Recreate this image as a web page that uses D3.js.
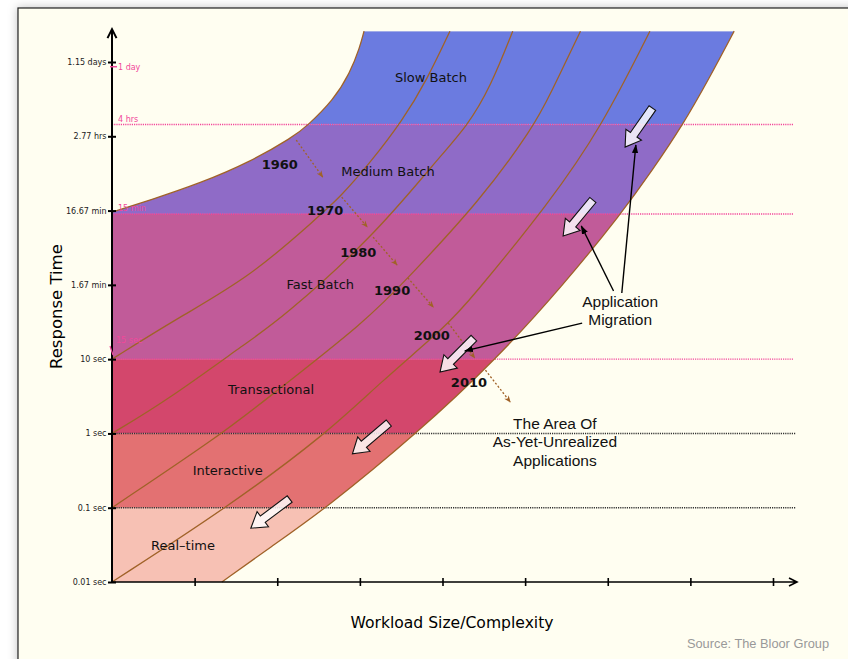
<!DOCTYPE html>
<html>
<head>
<meta charset="utf-8">
<script src="https://cdn.jsdelivr.net/npm/d3@7"></script>
<style>
  body { margin: 0; background: #fff; }
  svg { display: block; }
</style>
</head>
<body>
<svg></svg>
<script>
// Svg size
const width = 848
const height = 659

// Response time bands, bounds in seconds
const bandNames = ["Real–time", "Interactive", "Transactional", "Fast Batch", "Medium Batch", "Slow Batch"]
const bandBounds = [0.01, 0.1, 1, 10, 900, 14400, 260000]

// Axis ticks
const yTicks = [0.01, 0.1, 1, 10, 100, 1000, 10000, 100000]
const yTickLabels = ["0.01 sec", "0.1 sec", "1 sec", "10 sec", "1.67 min", "16.67 min", "2.77 hrs", "1.15 days"]
const xTicks = [1, 2, 3, 4, 5, 6, 7, 8]

// Pink reference marks (seconds)
const refNames = ["15 sec", "15 min", "4 hrs", "1 day"]
const refValues = [15, 900, 14400, 86400]

// Technology frontier per decade: [workload, seconds]
const years = ["1960", "1970", "1980", "1990", "2000", "2010"]
const curve1960 = [[0, 950], [0.46, 1380], [1.07, 2340], [1.67, 4500], [2.19, 9760], [2.36, 13700], [2.68, 30700], [2.88, 71000], [3.0, 158000], [3.05, 260000]]
const curve1970 = [[0, 10], [0.8, 36], [1.67, 127], [2.48, 793], [2.76, 1510], [3.12, 4340], [3.52, 16500], [3.81, 57000], [4.09, 260000]]
const curve1980 = [[0, 1], [0.67, 2.8], [1.67, 18], [2.03, 33.6], [3.16, 440], [3.93, 4790], [4.3, 13700], [4.58, 46000], [4.85, 260000]]
const curve1990 = [[0, 0.1], [1.34, 1], [1.85, 2.8], [3.09, 33.6], [3.58, 123], [4.46, 1380], [5.1, 13300], [5.3, 35900], [5.67, 260000]]
const curve2000 = [[0, 0.01], [1.39, 0.1], [2.6, 1], [3.24, 4.8], [4.06, 28.8], [4.33, 62], [5.3, 1300], [5.93, 13700], [6.51, 260000]]
const curve2010 = [[1.33, 0.01], [1.91, 0.029], [2.6, 0.1], [3.69, 1], [4.64, 9.7], [5.45, 96], [6.17, 925], [6.54, 3500], [6.9, 13700], [7.23, 60700], [7.53, 260000]]

// Year drift arrows (dotted)
const driftFrom = [[2.23, 8900], [2.78, 1520], [3.16, 440], [3.58, 124], [4.07, 30.6], [4.52, 7.1]]
const driftTo = [[2.55, 2830], [3.09, 600], [3.45, 185], [3.89, 50], [4.39, 10.4], [4.82, 2.65]]

// Application migration block arrows
const migrateFrom = [[6.54, 24000], [5.82, 1390], [4.38, 19.2], [3.35, 1.38], [2.15, 0.131]]
const migrateTo = [[6.21, 7160], [5.46, 454], [3.97, 6.7], [2.91, 0.53], [1.68, 0.053]]

// Callout pointers from the "Application Migration" label
const calloutFrom = [[6.17, 77.6], [6.07, 82.6], [5.69, 30.6]]
const calloutTo = [[6.34, 7620], [5.68, 620], [4.27, 12.9]]

// ---- layout / style ----
const bandColors = ["#f7c1b4", "#e37172", "#d3476c", "#c15b99", "#8f6bc7", "#6b7be0"]
const bandLabelAt = [[0.86, 0.027], [1.4, 0.275], [1.925, 3.4], [2.52, 88], [3.34, 2920], [3.86, 53700]]
const yearLabelAt = [[2.03, 3620], [2.58, 871], [2.98, 237], [3.39, 73], [3.87, 18], [4.32, 4.2]]
const brown = "#a06228"
const pink = "#f2479b"

const svg = d3.select("svg")
    .attr("width", width)
    .attr("height", height)

const xScale = d3.scaleLinear().domain([0, 8]).range([112, 773])
const yScale = d3.scaleLog().domain([0.01, 100000]).range([582, 62])
const topTime = bandBounds[bandBounds.length - 1]

const defs = svg.append("defs")

// Panel with soft shadow
const shadow = defs.append("filter").attr("id", "shadow")
    .attr("x", "-5%").attr("y", "-5%").attr("width", "110%").attr("height", "110%")
shadow.append("feDropShadow")
    .attr("dx", 0).attr("dy", 0).attr("stdDeviation", 5)
    .attr("flood-color", "#000").attr("flood-opacity", 0.25)

svg.append("rect")
    .attr("x", 18).attr("y", 8)
    .attr("width", width).attr("height", height)
    .attr("fill", "#fffef1")
    .attr("stroke", "#222").attr("stroke-width", 1.2)
    .attr("filter", "url(#shadow)")

const lineGen = d3.line()
    .x(d => xScale(d[0]))
    .y(d => yScale(d[1]))
    .curve(d3.curveBasis)

// Region between the 1960 and 2010 frontiers
const regionPath = `M${xScale(0)},${yScale(0.01)}L${xScale(0)},${yScale(curve1960[0][1])}`
    + lineGen(curve1960).replace(/^M/, "L")
    + lineGen(curve2010.slice().reverse()).replace(/^M/, "L")
    + "Z"

defs.append("clipPath").attr("id", "region")
    .append("path").attr("d", regionPath)

svg.append("g").attr("clip-path", "url(#region)")
    .selectAll("rect").data(bandNames).join("rect")
    .attr("x", xScale(0))
    .attr("width", xScale(8) - xScale(0))
    .attr("y", (d, i) => yScale(bandBounds[i + 1]))
    .attr("height", (d, i) => yScale(bandBounds[i]) - yScale(bandBounds[i + 1]))
    .attr("fill", (d, i) => bandColors[i])

// Dotted band boundaries
const xEnd = xScale(8) + 23
svg.append("g").selectAll("line").data(bandBounds.slice(1, 6)).join("line")
    .attr("x1", xScale(0)).attr("x2", (d, i) => i < 2 ? xEnd : xEnd - 3)
    .attr("y1", d => yScale(d)).attr("y2", d => yScale(d))
    .attr("stroke", (d, i) => i < 2 ? "#333" : pink)
    .attr("stroke-width", 1.4)
    .attr("stroke-dasharray", "1.2,1")

// Frontier curves
const curves = [curve1960, curve1970, curve1980, curve1990, curve2000, curve2010]
svg.append("g").selectAll("path").data(curves).join("path")
    .attr("d", d => lineGen(d))
    .attr("fill", "none")
    .attr("stroke", brown)
    .attr("stroke-width", 1.3)

// Markers
defs.append("marker").attr("id", "brownHead")
    .attr("viewBox", "0 0 10 10").attr("refX", 9).attr("refY", 5)
    .attr("markerWidth", 7).attr("markerHeight", 7).attr("markerUnits", "userSpaceOnUse")
    .attr("orient", "auto")
    .append("path").attr("d", "M0,1L10,5L0,9L3,5Z").attr("fill", brown)

defs.append("marker").attr("id", "blackHead")
    .attr("viewBox", "0 0 10 10").attr("refX", 9).attr("refY", 5)
    .attr("markerWidth", 9).attr("markerHeight", 9).attr("markerUnits", "userSpaceOnUse")
    .attr("orient", "auto")
    .append("path").attr("d", "M0,1.5L10,5L0,8.5Z").attr("fill", "#000")

// Year drift arrows
svg.append("g").selectAll("line").data(driftFrom).join("line")
    .attr("x1", d => xScale(d[0])).attr("y1", d => yScale(d[1]))
    .attr("x2", (d, i) => xScale(driftTo[i][0])).attr("y2", (d, i) => yScale(driftTo[i][1]))
    .attr("stroke", brown)
    .attr("stroke-width", 1.3)
    .attr("stroke-dasharray", "2,2")
    .attr("marker-end", "url(#brownHead)")

// Year labels
svg.append("g").selectAll("text").data(years).join("text")
    .attr("x", (d, i) => xScale(yearLabelAt[i][0]))
    .attr("y", (d, i) => yScale(yearLabelAt[i][1]))
    .attr("text-anchor", "middle")
    .attr("font-family", "DejaVu Sans")
    .attr("font-weight", "bold")
    .attr("font-size", 13)
    .attr("fill", "#111")
    .text(d => d)

// Band labels
svg.append("g").selectAll("text").data(bandNames).join("text")
    .attr("x", (d, i) => xScale(bandLabelAt[i][0]))
    .attr("y", (d, i) => yScale(bandLabelAt[i][1]))
    .attr("text-anchor", "middle")
    .attr("font-family", "DejaVu Sans")
    .attr("font-size", 13)
    .attr("fill", "#111")
    .text(d => d)

// Migration block arrows
const shaftW = 4, headW = 9.5, headL = 15
svg.append("g").selectAll("path").data(migrateFrom).join("path")
    .attr("d", (d, i) => {
        const x0 = xScale(d[0]), y0 = yScale(d[1])
        const x1 = xScale(migrateTo[i][0]), y1 = yScale(migrateTo[i][1])
        const L = Math.hypot(x1 - x0, y1 - y0)
        return `M0,${-shaftW}L${L - headL},${-shaftW}L${L - headL},${-headW}L${L},0L${L - headL},${headW}L${L - headL},${shaftW}L0,${shaftW}Z`
    })
    .attr("transform", (d, i) => {
        const x0 = xScale(d[0]), y0 = yScale(d[1])
        const x1 = xScale(migrateTo[i][0]), y1 = yScale(migrateTo[i][1])
        const a = Math.atan2(y1 - y0, x1 - x0) * 180 / Math.PI
        return `translate(${x0},${y0}) rotate(${a})`
    })
    .attr("fill", "#fff")
    .attr("fill-opacity", 0.82)
    .attr("stroke", "#111")
    .attr("stroke-width", 1.1)
    .attr("stroke-linejoin", "miter")

// Callout pointers
svg.append("g").selectAll("line").data(calloutFrom).join("line")
    .attr("x1", d => xScale(d[0])).attr("y1", d => yScale(d[1]))
    .attr("x2", (d, i) => xScale(calloutTo[i][0])).attr("y2", (d, i) => yScale(calloutTo[i][1]))
    .attr("stroke", "#000")
    .attr("stroke-width", 1.4)
    .attr("marker-end", "url(#blackHead)")

// Annotation texts
const note = (lines, at) => {
    const t = svg.append("text")
        .attr("x", xScale(at[0]))
        .attr("y", yScale(at[1]))
        .attr("text-anchor", "middle")
        .attr("font-family", "Liberation Sans, Arial")
        .attr("font-size", 15.5)
        .attr("fill", "#111")
    lines.forEach((l, i) => t.append("tspan")
        .attr("x", xScale(at[0]))
        .attr("dy", i === 0 ? 0 : 18.3)
        .text(l))
}
note(["Application", "Migration"], [6.15, 50.4])
note(["The Area Of", "As-Yet-Unrealized", "Applications"], [5.36, 1.15])

// Axes
const yAxis = d3.axisLeft(yScale)
    .tickValues(yTicks)
    .tickFormat((d, i) => yTickLabels[i])
    .tickSize(4)
    .tickPadding(1.5)
const yAxisG = svg.append("g")
    .attr("transform", `translate(${xScale(0)},0)`)
    .call(yAxis)
yAxisG.select(".domain").remove()
yAxisG.selectAll(".tick line").attr("x1", 4).attr("stroke", "#000").attr("stroke-width", 2)
yAxisG.selectAll(".tick text")
    .attr("font-family", "DejaVu Sans")
    .attr("font-size", 8)
    .attr("fill", "#222")

const xAxis = d3.axisBottom(xScale)
    .tickValues(xTicks)
    .tickFormat("")
    .tickSize(4)
const xAxisG = svg.append("g")
    .attr("transform", `translate(0,${yScale(0.01)})`)
    .call(xAxis)
xAxisG.select(".domain").remove()
xAxisG.selectAll(".tick line").attr("y1", -4).attr("stroke", "#000").attr("stroke-width", 1.6)

const x0 = xScale(0), y0 = yScale(0.01)
const yTopAxis = yScale(topTime) - 2
svg.append("path")
    .attr("d", `M${x0},${y0}V${yTopAxis}M${x0 - 4.5},${yTopAxis + 9}L${x0},${yTopAxis}L${x0 + 4.5},${yTopAxis + 9}`)
    .attr("fill", "none").attr("stroke", "#000").attr("stroke-width", 2)
svg.append("path")
    .attr("d", `M${x0},${y0}H${xEnd + 1}M${xEnd - 7},${y0 - 4}L${xEnd + 1},${y0}L${xEnd - 7},${y0 + 4}`)
    .attr("fill", "none").attr("stroke", "#000").attr("stroke-width", 1.6)

// Pink reference marks
const refG = svg.append("g")
refG.selectAll("text").data(refNames).join("text")
    .attr("x", (d, i) => x0 + (i === 0 ? 4 : 6))
    .attr("y", (d, i) => i === 3 ? yScale(refValues[i]) + 3 : (i === 0 ? yScale(refValues[i]) - 3 : yScale(refValues[i]) - 2.5))
    .attr("font-family", "DejaVu Sans")
    .attr("font-size", 8)
    .attr("fill", pink)
    .text(d => d)
refG.append("line")
    .attr("x1", x0 - 2).attr("x2", x0 + 5)
    .attr("y1", yScale(refValues[3])).attr("y2", yScale(refValues[3]))
    .attr("stroke", pink).attr("stroke-width", 1.5)
refG.append("line")
    .attr("x1", x0 - 2).attr("x2", x0 + 1)
    .attr("y1", yScale(refValues[0])).attr("y2", yScale(refValues[0]) + 9)
    .attr("stroke", pink).attr("stroke-width", 1.2)

// Axis titles
svg.append("text")
    .attr("transform", `translate(62, ${(yScale(0.01) + yScale(topTime)) / 2}) rotate(-90)`)
    .attr("text-anchor", "middle")
    .attr("font-family", "DejaVu Sans")
    .attr("font-size", 16.5)
    .attr("fill", "#000")
    .text("Response Time")

svg.append("text")
    .attr("x", 452)
    .attr("y", 628)
    .attr("text-anchor", "middle")
    .attr("font-family", "DejaVu Sans")
    .attr("font-size", 15.6)
    .attr("fill", "#000")
    .text("Workload Size/Complexity")

svg.append("text")
    .attr("x", 829)
    .attr("y", 648)
    .attr("text-anchor", "end")
    .attr("font-family", "Liberation Sans, Arial")
    .attr("font-size", 12.8)
    .attr("fill", "#999")
    .text("Source: The Bloor Group")
</script>
</body>
</html>
